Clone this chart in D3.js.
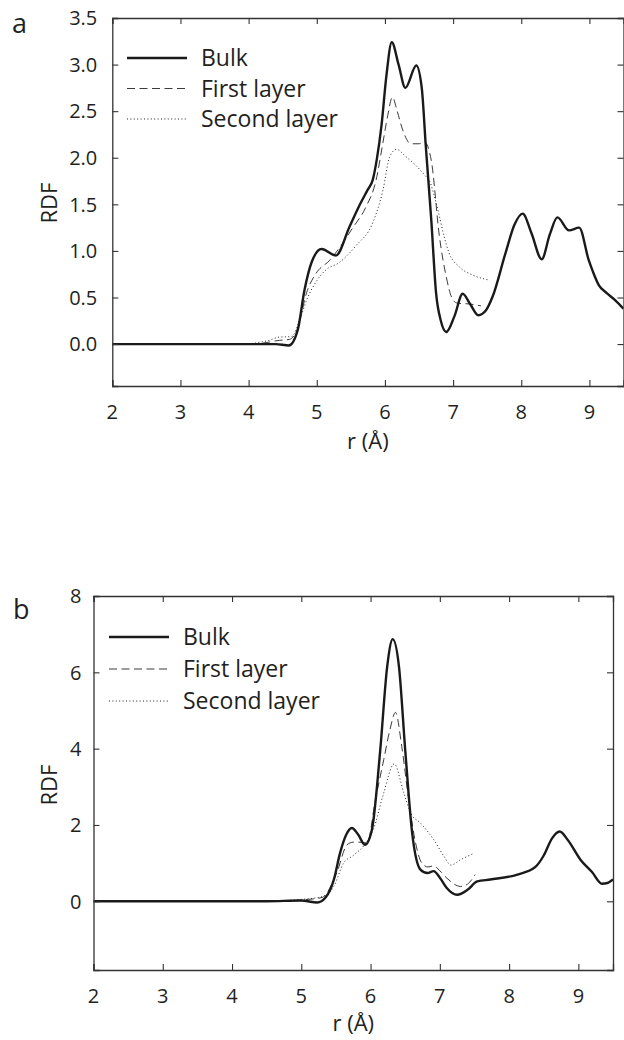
<!DOCTYPE html>
<html>
<head>
<meta charset="utf-8">
<script src="https://cdn.jsdelivr.net/npm/d3@7"></script>
<style>
  html, body { margin: 0; padding: 0; background: #fff; }
  svg { display: block; font-family: "Open Sans", "Noto Sans", sans-serif; }
</style>
</head>
<body>
<svg id="chart" width="624" height="1040"></svg>
<script>
// ---------- DATA ----------
const seriesNames = ["Bulk", "First layer", "Second layer"];
const xTicks = [2, 3, 4, 5, 6, 7, 8, 9];
const yTicksA = [0, 0.5, 1.0, 1.5, 2.0, 2.5, 3.0, 3.5];
const yTicksB = [0, 2, 4, 6, 8];

// Panel a
const bulkA_r = [2.0, 4.0, 4.4, 4.59, 4.72, 4.82, 4.92, 5.07, 5.28, 5.48, 5.62, 5.75, 5.82, 5.88, 5.95, 6.02, 6.10, 6.20, 6.30, 6.46, 6.54, 6.60, 6.68, 6.75, 6.82, 6.90, 7.02, 7.14, 7.25, 7.37, 7.48, 7.58, 7.77, 7.90, 8.02, 8.15, 8.30, 8.42, 8.53, 8.70, 8.85, 8.99, 9.05, 9.14, 9.25, 9.38, 9.50];
const bulkA_g = [0, 0, 0, -0.015, 0.15, 0.58, 0.87, 1.02, 0.95, 1.26, 1.48, 1.66, 1.76, 1.98, 2.35, 2.87, 3.24, 3.00, 2.75, 2.99, 2.75, 2.12, 1.33, 0.55, 0.25, 0.13, 0.30, 0.54, 0.43, 0.31, 0.36, 0.51, 0.98, 1.28, 1.40, 1.19, 0.91, 1.18, 1.36, 1.22, 1.25, 0.90, 0.78, 0.63, 0.55, 0.47, 0.38];
const firstA_r = [2.0, 4.0, 4.2, 4.45, 4.6, 4.72, 4.85, 4.99, 5.19, 5.33, 5.52, 5.72, 5.87, 5.97, 6.04, 6.11, 6.18, 6.26, 6.38, 6.50, 6.58, 6.68, 6.80, 6.90, 6.98, 7.06, 7.24, 7.41];
const firstA_g = [0, 0, 0.01, 0.04, 0.05, 0.17, 0.55, 0.76, 0.90, 1.03, 1.24, 1.47, 1.76, 2.16, 2.45, 2.65, 2.50, 2.30, 2.15, 2.15, 2.17, 1.97, 1.15, 0.72, 0.50, 0.44, 0.43, 0.41];
const secondA_r = [2.0, 4.0, 4.16, 4.3, 4.45, 4.63, 4.75, 4.85, 5.0, 5.14, 5.32, 5.58, 5.82, 5.97, 6.07, 6.17, 6.31, 6.45, 6.60, 6.65, 6.72, 6.79, 6.87, 6.94, 7.09, 7.29, 7.51];
const secondA_g = [0, 0, 0.02, 0.04, 0.075, 0.08, 0.26, 0.47, 0.68, 0.80, 0.87, 1.06, 1.30, 1.65, 2.01, 2.09, 2.01, 1.92, 1.80, 1.76, 1.60, 1.40, 1.15, 0.98, 0.83, 0.74, 0.69];

// Panel b
const bulkB_r = [2.0, 4.5, 5.0, 5.23, 5.35, 5.47, 5.56, 5.65, 5.73, 5.82, 5.92, 6.02, 6.14, 6.24, 6.32, 6.41, 6.50, 6.60, 6.72, 6.82, 6.91, 7.0, 7.1, 7.25, 7.4, 7.54, 7.73, 8.12, 8.38, 8.50, 8.62, 8.73, 8.85, 9.03, 9.20, 9.34, 9.42, 9.50];
const bulkB_g = [0, 0, 0.02, -0.03, 0.10, 0.57, 1.27, 1.75, 1.92, 1.75, 1.48, 1.88, 3.97, 6.15, 6.87, 6.15, 3.97, 1.80, 0.83, 0.74, 0.79, 0.62, 0.35, 0.17, 0.30, 0.52, 0.57, 0.70, 0.90, 1.20, 1.65, 1.83, 1.60, 1.09, 0.76, 0.46, 0.48, 0.57];
const firstB_r = [2.0, 4.6, 4.9, 5.1, 5.3, 5.51, 5.66, 5.75, 5.83, 5.95, 6.07, 6.19, 6.28, 6.36, 6.45, 6.55, 6.65, 6.74, 6.83, 6.91, 7.0, 7.10, 7.30, 7.40, 7.51];
const firstB_g = [0, 0, 0.02, 0.05, 0.10, 0.74, 1.48, 1.55, 1.55, 1.53, 2.66, 3.71, 4.50, 4.95, 4.06, 2.66, 1.53, 1.00, 0.90, 0.93, 0.80, 0.61, 0.39, 0.45, 0.70];
const secondB_r = [2.0, 4.7, 4.8, 5.0, 5.32, 5.47, 5.61, 5.75, 5.92, 6.04, 6.19, 6.34, 6.48, 6.58, 6.72, 6.91, 7.06, 7.16, 7.30, 7.47];
const secondB_g = [0, 0, 0.02, 0.05, 0.13, 0.39, 1.00, 1.20, 1.50, 1.88, 2.84, 3.60, 2.84, 2.31, 2.05, 1.62, 1.18, 0.95, 1.09, 1.24];

// ---------- DRAW ----------
const svg = d3.select("#chart");
svg.append("rect").attr("width", 624).attr("height", 1040).attr("fill", "#fff");

const styles = [
  { width: 2.4, color: "#1a1a1a", dash: null },
  { width: 1.0, color: "#3a3a3a", dash: "8,4.5" },
  { width: 1.0, color: "#222", dash: "1,2.4" }
];

function zip(rs, gs) { return rs.map((r, i) => [r, gs[i]]); }

function drawPanel(p) {
  const x = d3.scaleLinear().domain([2, 9.5]).range([p.left, p.right]);
  const y = d3.scaleLinear().domain(p.yDomain).range([p.bottom, p.top]);
  const g = svg.append("g");
  const clipId = "clip-" + p.letter;
  svg.append("clipPath").attr("id", clipId).append("rect")
    .attr("x", p.left).attr("y", p.top)
    .attr("width", p.right - p.left).attr("height", p.bottom - p.top);

  const line = d3.line().x(d => x(d[0])).y(d => y(d[1])).curve(d3.curveMonotoneX);
  const lines = g.append("g").attr("clip-path", `url(#${clipId})`);
  [2, 1, 0].forEach(i => {
    const s = styles[i];
    lines.append("path")
      .attr("d", line(zip(p.series[i][0], p.series[i][1])))
      .attr("fill", "none")
      .attr("stroke", s.color)
      .attr("stroke-width", s.width)
      .attr("stroke-dasharray", s.dash)
      .attr("stroke-linejoin", "round");
  });

  // axes (ticks inward on all sides)
  const axisColor = "#333";
  const tl = 6;
  const bottomAxis = d3.axisBottom(x).tickValues(xTicks).tickSize(-tl).tickFormat("");
  const topAxis = d3.axisTop(x).tickValues(xTicks).tickSize(-tl).tickFormat("");
  const leftAxis = d3.axisLeft(y).tickValues(p.yTicks).tickSize(-tl).tickFormat("");
  const rightAxis = d3.axisRight(y).tickValues(p.yTicks).tickSize(-tl).tickFormat("");
  const ax = [
    g.append("g").attr("transform", `translate(0,${p.bottom})`).call(bottomAxis),
    g.append("g").attr("transform", `translate(0,${p.top})`).call(topAxis),
    g.append("g").attr("transform", `translate(${p.left},0)`).call(leftAxis),
    g.append("g").attr("transform", `translate(${p.right},0)`).call(rightAxis)
  ];
  ax.forEach(a => {
    a.select(".domain").attr("stroke", axisColor).attr("stroke-width", 1.3);
    a.selectAll(".tick line").attr("stroke", axisColor).attr("stroke-width", 1.1);
  });

  // tick labels
  g.selectAll(".xl").data(xTicks).enter().append("text")
    .attr("x", d => x(d)).attr("y", p.bottom + 33)
    .attr("text-anchor", "middle").attr("font-size", 20).attr("fill", "#231f20")
    .text(d => d);
  g.selectAll(".yl").data(p.yTicks).enter().append("text")
    .attr("x", p.left - p.ylGap).attr("y", d => y(d)).attr("dy", "0.36em")
    .attr("text-anchor", "end").attr("font-size", 20).attr("fill", "#231f20")
    .text(p.yFormat);

  // titles
  g.append("text").attr("x", (p.left + p.right) / 2).attr("y", p.xTitleY)
    .attr("text-anchor", "middle").attr("font-size", 22).attr("fill", "#231f20")
    .text("r (Å)");
  g.append("text").attr("transform", `translate(57,${p.yTitleY}) rotate(-90)`)
    .attr("text-anchor", "middle").attr("font-size", 22).attr("fill", "#231f20")
    .text("RDF");
  g.append("text").attr("x", p.letterX).attr("y", p.letterY)
    .attr("font-size", 27).attr("fill", "#231f20").text(p.letter);

  // legend
  seriesNames.forEach((name, i) => {
    const s = styles[i];
    const ly = p.legY + i * p.legStep;
    g.append("line").attr("x1", p.legX).attr("x2", p.legX + 60)
      .attr("y1", ly).attr("y2", ly)
      .attr("stroke", s.color).attr("stroke-width", i === 0 ? 2.4 : 1.0)
      .attr("stroke-dasharray", s.dash);
    g.append("text").attr("x", p.legX + 74).attr("y", ly).attr("dy", "0.36em")
      .attr("font-size", 23).attr("fill", "#231f20").text(name);
  });
}

drawPanel({
  letter: "a", letterX: 12, letterY: 33,
  left: 112.3, right: 623.5, top: 18, bottom: 386,
  yDomain: [-0.45, 3.5], yTicks: yTicksA, yFormat: d3.format(".1f"), ylGap: 15,
  xTitleY: 449, yTitleY: 203,
  legX: 127, legY: 58, legStep: 30.5,
  series: [[bulkA_r, bulkA_g], [firstA_r, firstA_g], [secondA_r, secondA_g]]
});

drawPanel({
  letter: "b", letterX: 13, letterY: 619,
  left: 93.5, right: 613, top: 596, bottom: 970,
  yDomain: [-1.8, 8], yTicks: yTicksB, yFormat: d3.format("d"), ylGap: 12,
  xTitleY: 1031, yTitleY: 785,
  legX: 109, legY: 637, legStep: 32,
  series: [[bulkB_r, bulkB_g], [firstB_r, firstB_g], [secondB_r, secondB_g]]
});
</script>
</body>
</html>
